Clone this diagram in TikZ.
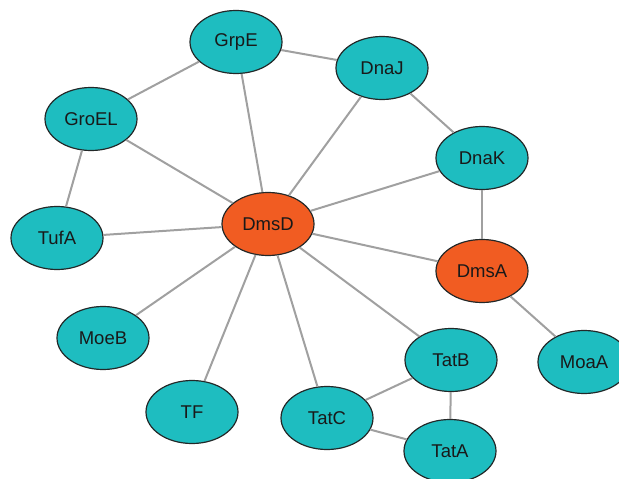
\documentclass[tikz,border=0pt]{standalone}
\usepackage{fontspec}
\setmainfont{Liberation Sans}
\usetikzlibrary{shapes.geometric}
\definecolor{teal}{RGB}{30,189,192}
\definecolor{orng}{RGB}{241,92,34}
\definecolor{edgegray}{RGB}{160,160,160}
\definecolor{bord}{RGB}{35,40,40}
\tikzset{
  prot/.style={ellipse, draw=bord, line width=1.2pt, fill=teal, minimum width=92pt, minimum height=63pt, inner sep=0pt, font=\fontsize{18.5}{20}\selectfont, text=black!90},
  hub/.style={prot, fill=orng},
  link/.style={draw=edgegray, line width=2pt}
}
\begin{document}
\begin{tikzpicture}[x=1pt,y=-1pt]
\useasboundingbox (0,0) rectangle (619,479);
\node[prot] (GrpE) at (236,42) {GrpE};
\node[prot] (DnaJ) at (382,68) {DnaJ};
\node[prot] (GroEL) at (91,119) {GroEL};
\node[prot] (DnaK) at (482,158) {DnaK};
\node[hub] (DmsD) at (268,224) {DmsD};
\node[prot] (TufA) at (57,238) {TufA};
\node[hub] (DmsA) at (482,271) {DmsA};
\node[prot] (MoeB) at (103,338) {MoeB};
\node[prot] (MoaA) at (584,362) {MoaA};
\node[prot] (TatB) at (451,360) {TatB};
\node[prot] (TF) at (192,412) {TF};
\node[prot] (TatC) at (327,418) {TatC};
\node[prot] (TatA) at (450,451) {TatA};
\foreach \a/\b in {GrpE/DnaJ, GrpE/GroEL, GrpE/DmsD, DnaJ/DmsD, DnaJ/DnaK, GroEL/DmsD, GroEL/TufA, TufA/DmsD, DnaK/DmsD, DnaK/DmsA, DmsD/DmsA, DmsA/MoaA, DmsD/MoeB, DmsD/TF, DmsD/TatC, DmsD/TatB, TatB/TatC, TatB/TatA, TatC/TatA}
  \draw[link] (\a) -- (\b);
\end{tikzpicture}
\end{document}
